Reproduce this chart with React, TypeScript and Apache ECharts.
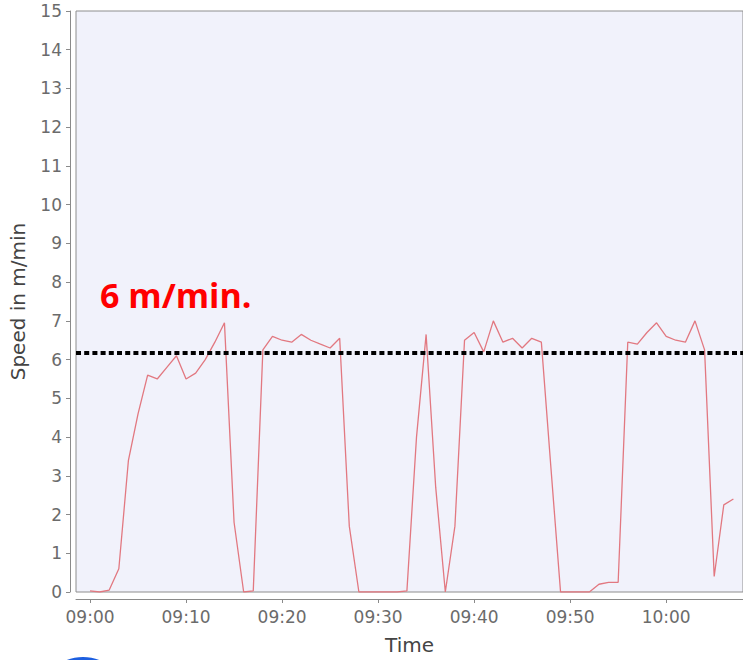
import React, { useEffect, useRef } from "react";
import * as echarts from "echarts";

const times: string[] = [
  "09:00","09:01","09:02","09:03","09:04","09:05","09:06","09:07","09:08","09:09",
  "09:10","09:11","09:12","09:13","09:14","09:15","09:16","09:17","09:18","09:19",
  "09:20","09:21","09:22","09:23","09:24","09:25","09:26","09:27","09:28","09:29",
  "09:30","09:31","09:32","09:33","09:34","09:35","09:36","09:37","09:38","09:39",
  "09:40","09:41","09:42","09:43","09:44","09:45","09:46","09:47","09:48","09:49",
  "09:50","09:51","09:52","09:53","09:54","09:55","09:56","09:57","09:58","09:59",
  "10:00","10:01","10:02","10:03","10:04","10:05","10:06","10:07",
];

const speeds: number[] = [
  0.03, 0, 0.05, 0.6, 3.4, 4.6, 5.6, 5.5, 5.8, 6.1,
  5.5, 5.65, 6.0, 6.45, 6.95, 1.8, 0, 0.03, 6.25, 6.6,
  6.5, 6.45, 6.65, 6.5, 6.4, 6.3, 6.55, 1.7, 0, 0,
  0, 0, 0, 0.03, 4.0, 6.65, 2.7, 0, 1.7, 6.5,
  6.7, 6.2, 7.0, 6.45, 6.55, 6.3, 6.55, 6.45, 3.2, 0,
  0, 0, 0, 0.2, 0.25, 0.25, 6.45, 6.4, 6.7, 6.95,
  6.6, 6.5, 6.45, 7.0, 6.25, 0.4, 2.25, 2.4,
];

const xTickLabels: string[] = ["09:00", "09:10", "09:20", "09:30", "09:40", "09:50", "10:00"];
const thresholdValue = 6.17;
const thresholdLabel = "6 m/min.";

const toMin = (t: string) => {
  const [h, m] = t.split(":").map(Number);
  return (h - 9) * 60 + m;
};
const fromMin = (v: number) => {
  const h = 9 + Math.floor(v / 60);
  const m = Math.round(v - Math.floor(v / 60) * 60);
  return `${String(h).padStart(2, "0")}:${String(m).padStart(2, "0")}`;
};

export default function App() {
  const ref = useRef<HTMLDivElement>(null);
  useEffect(() => {
    if (!ref.current) return;
    const chart = echarts.init(ref.current, undefined, { renderer: "svg" });
    const data = times.map((t, i) => [toMin(t), speeds[i]]);
    const tickVals = xTickLabels.map(toMin);
    const font = "DejaVu Sans";
    chart.setOption({
      animation: false,
      backgroundColor: "#ffffff",
      grid: {
        left: 76,
        right: 0,
        top: 11,
        bottom: 67,
        show: true,
        backgroundColor: "#f1f2fb",
        borderColor: "#8e8e8e",
        borderWidth: 1,
      },
      xAxis: {
        type: "value",
        min: -1.46,
        max: 68.0,
        offset: 7,
        name: "Time",
        nameLocation: "middle",
        nameGap: 36,
        nameTextStyle: { fontFamily: font, fontSize: 20, color: "#444444" },
        axisLine: { show: true, onZero: false, lineStyle: { color: "#8a8a8a", width: 1 } },
        axisTick: { show: true, length: 4, customValues: tickVals, lineStyle: { color: "#8a8a8a" } },
        axisLabel: {
          customValues: tickVals,
          formatter: (v: number) => fromMin(v),
          fontFamily: font,
          fontSize: 17,
          color: "#6b6b6b",
          margin: 9,
        },
        splitLine: { show: false },
      },
      yAxis: {
        type: "value",
        min: 0,
        max: 15,
        interval: 1,
        offset: 6,
        name: "Speed in m/min",
        nameLocation: "middle",
        nameGap: 42,
        nameTextStyle: { fontFamily: font, fontSize: 20, color: "#444444" },
        axisLine: { show: true, onZero: false, lineStyle: { color: "#8a8a8a", width: 1 } },
        axisTick: { show: true, length: 4, lineStyle: { color: "#8a8a8a" } },
        axisLabel: { fontFamily: font, fontSize: 17, color: "#6b6b6b", margin: 8 },
        splitLine: { show: false },
      },
      series: [
        {
          type: "line",
          data,
          showSymbol: false,
          symbol: "none",
          lineStyle: { color: "#e27880", width: 1.3 },
          markLine: {
            silent: true,
            symbol: "none",
            label: { show: false },
            lineStyle: { color: "#000000", width: 4, type: [5, 3.2] },
            data: [{ yAxis: thresholdValue }],
          },
        },
      ],
      graphic: [
        {
          type: "text",
          left: 100,
          top: 278,
          style: {
            text: thresholdLabel,
            fill: "#ff0000",
            fontFamily: "Open Sans",
            fontWeight: "bold",
            fontSize: 34,
          },
        },
        {
          type: "ellipse",
          shape: { cx: 83, cy: 692, rx: 40, ry: 35 },
          style: { fill: "#1d5fe0" },
        },
      ],
    });
    return () => chart.dispose();
  }, []);
  return (
    <div
      ref={ref}
      style={{ position: "fixed", left: 0, top: 0, width: 743, height: 660 }}
    />
  );
}
